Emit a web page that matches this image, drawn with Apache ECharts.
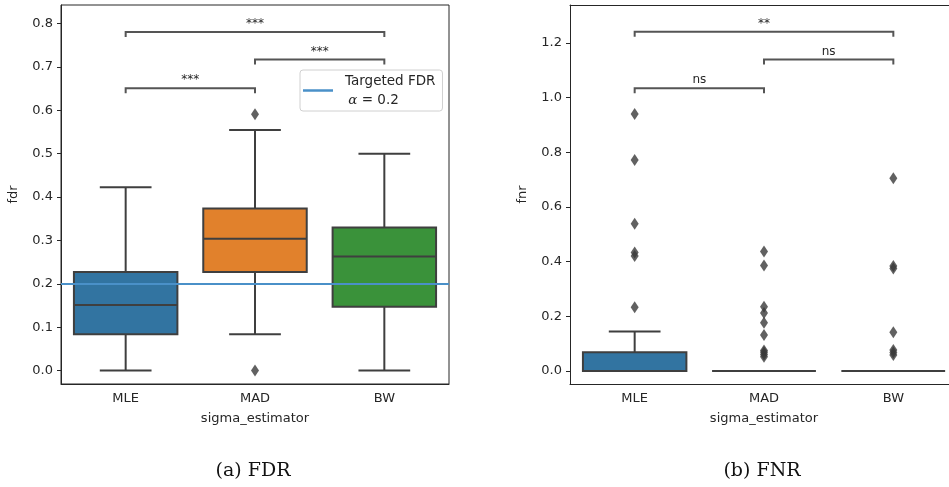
<!DOCTYPE html>
<html>
<head>
<meta charset="utf-8">
<script src="https://cdn.jsdelivr.net/npm/echarts@6/dist/echarts.min.js"></script>
<style>
  html, body { margin: 0; padding: 0; background: #fff; }
  #chart { width: 949px; height: 487px; }
</style>
</head>
<body>
<div id="chart"></div>
<script>
// categories
const categories = ['MLE', 'MAD', 'BW'];

// box stats: [lower whisker, Q1, median, Q3, upper whisker]
const fdrBoxes = [
    [0.0, 0.084, 0.151, 0.227, 0.423],
    [0.084, 0.227, 0.304, 0.374, 0.555],
    [0.0, 0.147, 0.263, 0.330, 0.500]
];
const fnrBoxes = [
    [0.0, 0.0, 0.0, 0.068, 0.144],
    [0.0, 0.0, 0.0, 0.0, 0.0],
    [0.0, 0.0, 0.0, 0.0, 0.0]
];

// outliers per category
const fdrOutliers = [[], [0.591, 0.0], []];
const fnrOutliers = [
    [0.940, 0.772, 0.538, 0.433, 0.420, 0.233],
    [0.437, 0.386, 0.235, 0.212, 0.176, 0.131, 0.075, 0.068, 0.060, 0.052],
    [0.705, 0.384, 0.375, 0.141, 0.076, 0.067, 0.058]
];

// significance brackets: [from, to, height]
const fdrPairs = [[0, 1, 0.651], [1, 2, 0.7175], [0, 2, 0.781]];
const fdrPairLabels = ['***', '***', '***'];
const fnrPairs = [[0, 1, 1.034], [1, 2, 1.140], [0, 2, 1.241]];
const fnrPairLabels = ['ns', 'ns', '**'];

// reference line
const targetFdr = 0.2;

// axis ranges and ticks
const fdrRange = [-0.031, 0.843];
const fnrRange = [-0.048, 1.339];
const fdrTicks = [0, 0.1, 0.2, 0.3, 0.4, 0.5, 0.6, 0.7, 0.8];
const fnrTicks = [0, 0.2, 0.4, 0.6, 0.8, 1.0, 1.2];

// 样式常量
const palette = ['#3274a1', '#e1812c', '#3a923a'];
const EDGE = '#3f3f3f';
const LW = 2;
const TXT = '#262626';
const FONT = 'DejaVu Sans';

function seg(x1, y1, x2, y2) {
    return { type: 'line', shape: { x1, y1, x2, y2 }, style: { stroke: EDGE, lineWidth: LW } };
}

// seaborn 风格的箱体：须的横线只有箱宽的一半
function renderBox(params, api) {
    const x = api.value(0);
    const band = api.size([1, 0])[0];
    const w = band * 0.8;
    const c = api.coord([x, 0])[0];
    const y = i => api.coord([x, api.value(i)])[1];
    const lo = y(1), q1 = y(2), md = y(3), q3 = y(4), hi = y(5);
    return {
        type: 'group',
        children: [
            seg(c, hi, c, q3),
            seg(c, q1, c, lo),
            seg(c - w / 4, hi, c + w / 4, hi),
            seg(c - w / 4, lo, c + w / 4, lo),
            { type: 'rect', shape: { x: c - w / 2, y: q3, width: w, height: q1 - q3 },
              style: { fill: api.visual('color'), stroke: EDGE, lineWidth: LW } },
            seg(c - w / 2, md, c + w / 2, md)
        ]
    };
}

function bracketRenderer(labels) {
    return function (params, api) {
        const p1 = api.coord([api.value(0), api.value(2)]);
        const p2 = api.coord([api.value(1), api.value(2)]);
        return {
            type: 'group',
            children: [
                { type: 'polyline',
                  shape: { points: [[p1[0], p1[1] + 5], [p1[0], p1[1]], [p2[0], p2[1]], [p2[0], p2[1] + 5]] },
                  style: { stroke: '#555', lineWidth: 2, fill: null } },
                { type: 'text',
                  style: { text: labels[params.dataIndex], x: (p1[0] + p2[0]) / 2, y: p1[1] - 2,
                           align: 'center', verticalAlign: 'bottom',
                           fill: TXT, font: '12px ' + FONT } }
            ]
        };
    };
}

function boxData(boxes) {
    return boxes.map((b, i) => ({ value: [i].concat(b), itemStyle: { color: palette[i] } }));
}

function outlierData(outs) {
    const pts = [];
    outs.forEach((list, i) => list.forEach(v => pts.push([i, v])));
    return pts;
}

function xAxisFor(gridIndex) {
    return {
        type: 'category', gridIndex, data: categories,
        name: 'sigma_estimator', nameLocation: 'middle', nameGap: 28,
        nameTextStyle: { color: TXT, fontSize: 13, fontFamily: FONT },
        axisLine: { onZero: false, lineStyle: { color: TXT, width: 1 } },
        axisTick: { alignWithLabel: true, length: 4, lineStyle: { color: TXT } },
        axisLabel: { color: TXT, fontSize: 13, fontFamily: FONT, margin: 8 },
        splitLine: { show: false }
    };
}

function yAxisFor(gridIndex, name, range, ticks) {
    return {
        type: 'value', gridIndex, min: range[0], max: range[1],
        name, nameLocation: 'middle', nameGap: 41,
        nameTextStyle: { color: TXT, fontSize: 13, fontFamily: FONT },
        axisLine: { show: true, onZero: false, lineStyle: { color: TXT, width: 1 } },
        axisTick: { show: true, length: 4, customValues: ticks, lineStyle: { color: TXT } },
        axisLabel: { color: TXT, fontSize: 13, fontFamily: FONT, margin: 8,
                     customValues: ticks, formatter: v => v.toFixed(1) },
        splitLine: { show: false }
    };
}

const chart = echarts.init(document.getElementById('chart'));

const option = {
    animation: false,
    backgroundColor: '#fff',
    title: [
        { text: '(a) FDR', left: 248, top: 457, textAlign: 'center',
          textStyle: { fontFamily: 'DejaVu Serif', fontSize: 19, fontWeight: 'normal', color: '#111' } },
        { text: '(b) FNR', left: 757, top: 457, textAlign: 'center',
          textStyle: { fontFamily: 'DejaVu Serif', fontSize: 19, fontWeight: 'normal', color: '#111' } }
    ],
    grid: [
        { left: 61, top: 5, width: 388, height: 379, show: true, borderColor: TXT, borderWidth: 1,
          outerBoundsMode: 'none' },
        // 右图被裁掉了右边框，只画上边线（见下方第三个 x 轴）
        { left: 570, top: 5, width: 388, height: 379, show: false, outerBoundsMode: 'none' }
    ],
    legend: {
        data: ['Targeted FDR'],
        left: 300, top: 70,
        icon: 'rect', itemWidth: 30, itemHeight: 2.5, itemGap: 5,
        padding: [4, 7, 4, 3],
        borderColor: '#d0d0d0', borderWidth: 1, borderRadius: 3,
        backgroundColor: '#fff',
        formatter: () => '{t|Targeted FDR}\n {i|α}{t| = 0.2}',
        textStyle: {
            padding: [0, 0, 0, 7],
            rich: {
                t: { fontSize: 13.5, fontFamily: FONT, color: TXT, lineHeight: 19 },
                i: { fontSize: 13.5, fontFamily: 'DejaVu Serif', fontStyle: 'italic', color: TXT, lineHeight: 19 }
            }
        }
    },
    xAxis: [
        xAxisFor(0),
        xAxisFor(1),
        { type: 'category', gridIndex: 1, position: 'top', data: categories,
          axisLine: { onZero: false, lineStyle: { color: TXT, width: 1 } },
          axisTick: { show: false }, axisLabel: { show: false }, splitLine: { show: false } }
    ],
    yAxis: [
        yAxisFor(0, 'fdr', fdrRange, fdrTicks),
        yAxisFor(1, 'fnr', fnrRange, fnrTicks)
    ],
    series: [
        { type: 'custom', xAxisIndex: 0, yAxisIndex: 0, renderItem: renderBox,
          encode: { x: 0, y: [1, 2, 3, 4, 5] }, data: boxData(fdrBoxes), z: 2 },
        { type: 'custom', xAxisIndex: 1, yAxisIndex: 1, renderItem: renderBox,
          encode: { x: 0, y: [1, 2, 3, 4, 5] }, data: boxData(fnrBoxes), z: 2 },
        { type: 'scatter', xAxisIndex: 0, yAxisIndex: 0, symbol: 'diamond', symbolSize: [8, 12],
          itemStyle: { color: '#3a3a3a' }, data: outlierData(fdrOutliers), z: 3 },
        { type: 'scatter', xAxisIndex: 1, yAxisIndex: 1, symbol: 'diamond', symbolSize: [8, 12],
          itemStyle: { color: '#3a3a3a' }, data: outlierData(fnrOutliers), z: 3 },
        { type: 'custom', xAxisIndex: 0, yAxisIndex: 0, renderItem: bracketRenderer(fdrPairLabels),
          encode: { x: [0, 1], y: 2 }, data: fdrPairs, z: 4 },
        { type: 'custom', xAxisIndex: 1, yAxisIndex: 1, renderItem: bracketRenderer(fnrPairLabels),
          encode: { x: [0, 1], y: 2 }, data: fnrPairs, z: 4 },
        { name: 'Targeted FDR', type: 'line', xAxisIndex: 0, yAxisIndex: 0, data: [],
          itemStyle: { color: '#4a90c8' }, lineStyle: { color: '#4a90c8', width: 2 },
          markLine: { silent: true, symbol: 'none', label: { show: false },
                      lineStyle: { color: '#4a90c8', width: 2.2, type: 'solid' },
                      data: [{ yAxis: targetFdr }] },
          z: 5 }
    ]
};

chart.setOption(option);
</script>
</body>
</html>
